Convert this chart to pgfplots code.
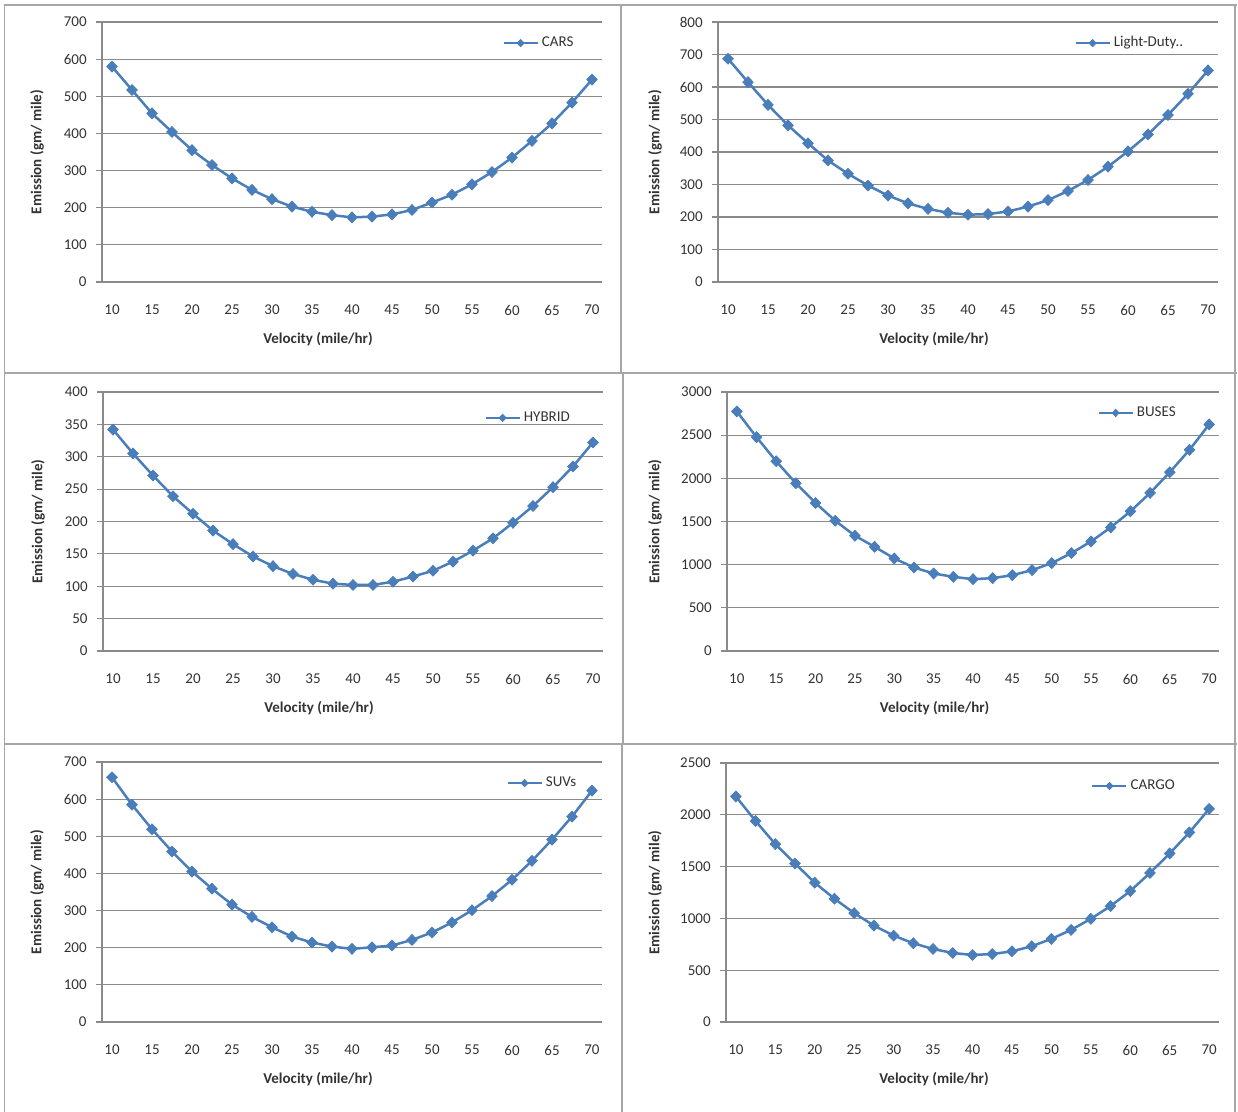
\documentclass[border=0pt]{standalone}
\usepackage{pgfplots}
\pgfplotsset{compat=1.18}
\usepackage{fontspec}
\setmainfont{Carlito}
\definecolor{xlblue}{HTML}{4A7EBB}
\definecolor{gridgray}{HTML}{8A8A8A}
\definecolor{boxgray}{HTML}{A6A6A6}
\definecolor{labelgray}{HTML}{333333}
\newcommand\tickfont{\fontsize{7.5}{9}\selectfont}
\newcommand\labelfont{\fontsize{7.5}{9}\selectfont\bfseries}
\pgfplotsset{
  ser/.style={color=xlblue, line width=1.25pt, mark=diamond*,
      mark size=2.7pt, mark options={xscale=1.3, solid, fill=xlblue, line width=0.4pt}},
  panel/.style={
    scale only axis, width=250pt, height=130pt,
    xmin=8.75, xmax=71.25, ymin=0,
    axis x line*=bottom, axis y line*=left,
    axis line style={draw=gridgray, line width=0.6pt},
    xtick={10,15,...,70},
    ymajorgrids, grid style={draw=gridgray, line width=0.6pt},
    tick align=outside, major tick length=3pt,
    major x tick style={draw=none},
    major y tick style={draw=gridgray, line width=0.6pt},
    /pgf/number format/assume math mode=true,
    /pgf/number format/1000 sep={},
    tick label style={font=\tickfont, text=labelgray},
    xticklabel style={anchor=center, yshift=-11pt},
    yticklabel style={anchor=east, inner sep=0pt, xshift=-4.5pt},
    xlabel={Velocity (mile/hr)}, ylabel={Emission (gm/ mile)},
    label style={font=\labelfont, text=labelgray},
    xlabel style={at={(axis description cs:0.432,-0.219)}, anchor=center},
    ylabel style={at={(axis description cs:-0.13,0.5)}, anchor=center, rotate=0},
    legend style={draw=none, fill=none, inner sep=0pt, font=\tickfont, text=labelgray,
      nodes={inner sep=1.5pt}},
    legend image code/.code={\draw[#1, mark=none] (0pt,0pt) -- (17pt,0pt); \draw[#1, mark size=1.8pt] plot coordinates {(8.5pt,0pt)};},
  }
}
\begin{document}
\begin{tikzpicture}
\useasboundingbox (0,0) rectangle (619pt,-556pt);
% panel frames
\draw[boxgray, line width=0.8pt] (2pt,-2.5pt) -- (618.5pt,-2.5pt);
\draw[boxgray, line width=0.8pt] (2.3pt,-2.5pt) -- (2.3pt,-556pt);
\draw[boxgray, line width=0.8pt] (617.5pt,-2.5pt) -- (617.5pt,-556pt);
\draw[boxgray, line width=0.8pt] (2pt,-186.5pt) -- (618.5pt,-186.5pt);
\draw[boxgray, line width=0.8pt] (2pt,-372pt) -- (618.5pt,-372pt);
\draw[boxgray, line width=0.8pt] (310.5pt,-2.5pt) -- (310.5pt,-186.5pt);
\draw[boxgray, line width=0.8pt] (311.5pt,-186.5pt) -- (311.5pt,-372pt);
\draw[boxgray, line width=0.8pt] (311pt,-372pt) -- (311pt,-556pt);

% ---- CARS
\begin{axis}[panel, at={(51pt,-141pt)}, anchor=south west,
  ymax=700, ytick={0,100,...,700},
  legend style={at={(axis description cs:0.80,0.919)}, anchor=west}]
\addplot[ser] table {
10 580
12.5 517
15 454
17.5 404
20 355
22.5 315
25 279
27.5 248
30 223
32.5 203
35 189
37.5 180
40 174
42.5 176
45 182
47.5 194
50 214
52.5 235
55 263
57.5 296
60 335
62.5 380
65 427
67.5 483
70 545
};
\addlegendentry{CARS}
\end{axis}

% ---- Light-Duty
\begin{axis}[panel, at={(359pt,-141pt)}, anchor=south west,
  ymax=800, ytick={0,100,...,800},
  ylabel style={at={(axis description cs:-0.126,0.5)}},
  legend style={at={(axis description cs:0.712,0.919)}, anchor=west}]
\addplot[ser] table {
10 687
12.5 615
15 545
17.5 482
20 427
22.5 374
25 333
27.5 297
30 266
32.5 242
35 225
37.5 213
40 207
42.5 209
45 217
47.5 232
50 252
52.5 280
55 314
57.5 355
60 402
62.5 454
65 514
67.5 579
70 651
};
\addlegendentry{Light-Duty..}
\end{axis}

% ---- HYBRID
\begin{axis}[panel, at={(51.5pt,-325.5pt)}, anchor=south west, height=129.5pt,
  ymax=400, ytick={0,50,...,400},
  legend style={at={(axis description cs:0.762,0.90)}, anchor=west}]
\addplot[ser] table {
10 342
12.5 305
15 271
17.5 239
20 212
22.5 186
25 165
27.5 146
30 131
32.5 119
35 110
37.5 104
40 102
42.5 102
45 107
47.5 115
50 124
52.5 138
55 155
57.5 174
60 198
62.5 224
65 253
67.5 285
70 322
};
\addlegendentry{HYBRID}
\end{axis}

% ---- BUSES
\begin{axis}[panel, at={(363.5pt,-325.5pt)}, anchor=south west, width=246pt, height=129.5pt,
  ymax=3000, ytick={0,500,...,3000},
  ylabel style={at={(axis description cs:-0.146,0.5)}},
  xlabel style={at={(axis description cs:0.422,-0.219)}},
  legend style={at={(axis description cs:0.752,0.919)}, anchor=west}]
\addplot[ser] table {
10 2775
12.5 2477
15 2198
17.5 1943
20 1714
22.5 1509
25 1335
27.5 1207
30 1072
32.5 967
35 898
37.5 859
40 832
42.5 844
45 878
47.5 937
50 1018
52.5 1134
55 1269
57.5 1432
60 1618
62.5 1831
65 2071
67.5 2330
70 2624
};
\addlegendentry{BUSES}
\end{axis}

% ---- SUVs
\begin{axis}[panel, at={(51pt,-511pt)}, anchor=south west,
  ymax=700, ytick={0,100,...,700},
  legend style={at={(axis description cs:0.808,0.919)}, anchor=west}]
\addplot[ser] table {
10 659
12.5 585
15 519
17.5 459
20 405
22.5 359
25 316
27.5 283
30 255
32.5 230
35 214
37.5 203
40 197
42.5 201
45 206
47.5 221
50 241
52.5 268
55 301
57.5 339
60 383
62.5 434
65 491
67.5 553
70 623
};
\addlegendentry{SUVs}
\end{axis}

% ---- CARGO
\begin{axis}[panel, at={(363pt,-511pt)}, anchor=south west, width=246.5pt, height=129.5pt,
  ymax=2500, ytick={0,500,...,2500},
  ylabel style={at={(axis description cs:-0.144,0.5)}},
  xlabel style={at={(axis description cs:0.422,-0.219)}},
  legend style={at={(axis description cs:0.740,0.911)}, anchor=west}]
\addplot[ser] table {
10 2177
12.5 1940
15 1717
17.5 1530
20 1345
22.5 1190
25 1051
27.5 931
30 834
32.5 760
35 705
37.5 666
40 647
42.5 656
45 682
47.5 731
50 802
52.5 889
55 996
57.5 1119
60 1264
62.5 1439
65 1627
67.5 1830
70 2057
};
\addlegendentry{CARGO}
\end{axis}
\end{tikzpicture}
\end{document}
